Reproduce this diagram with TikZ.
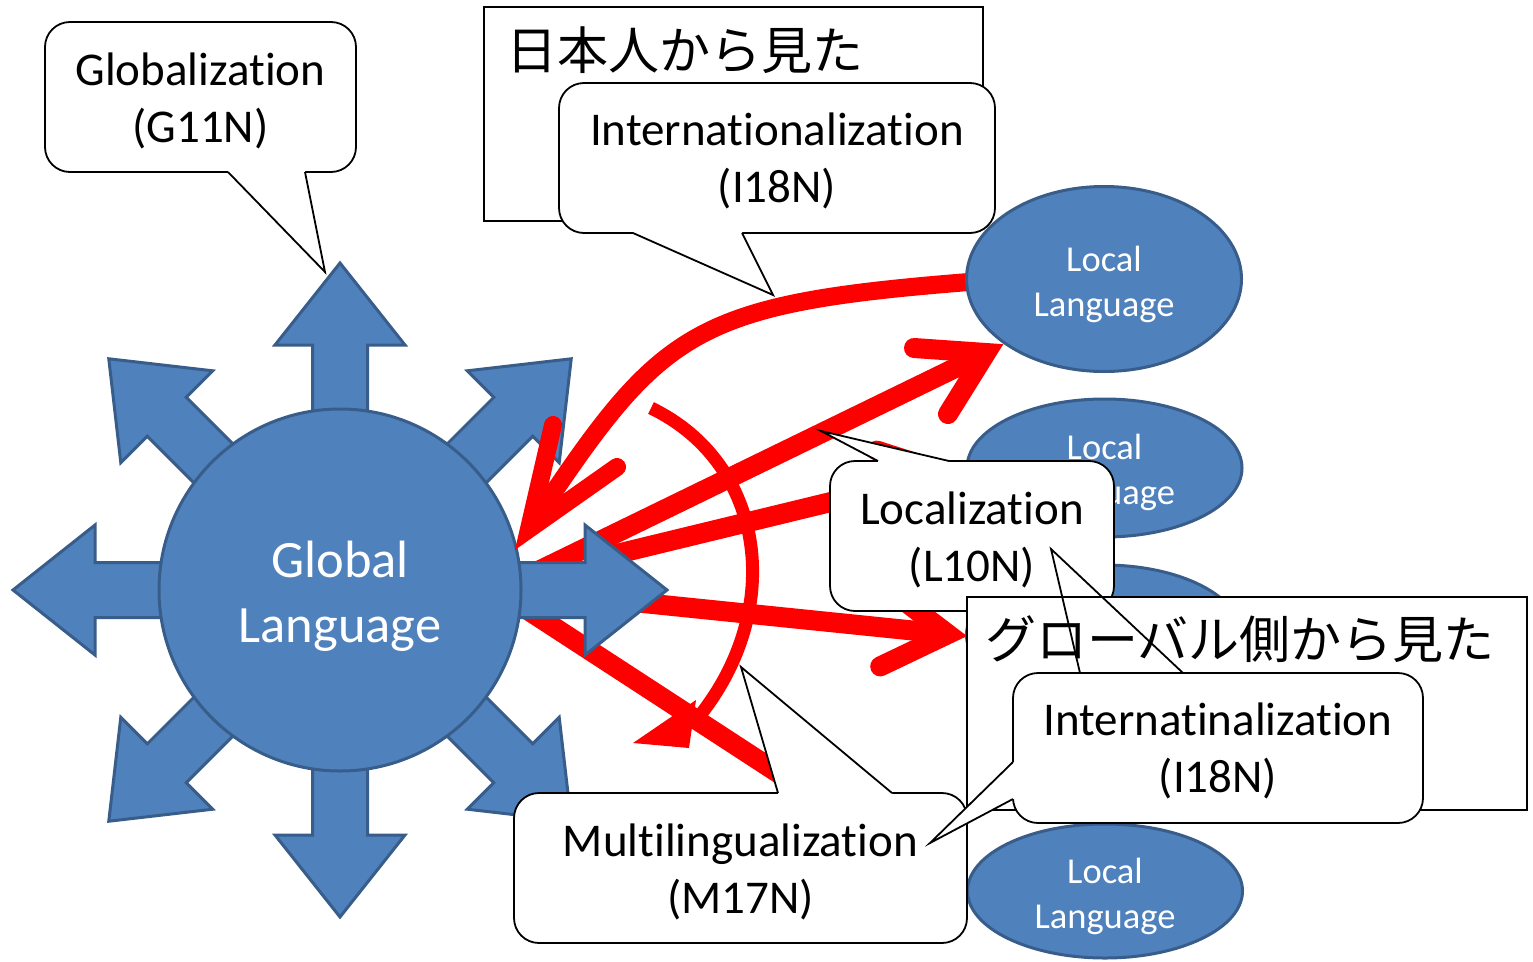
\documentclass[tikz,border=0pt]{standalone}
\usepackage{fontspec}
\setmainfont{Carlito}[Ligatures=NoCommon]
\newfontfamily\jpfont{Noto Sans CJK JP}
\usetikzlibrary{shapes.geometric}
\definecolor{gblue}{HTML}{4F81BD}
\definecolor{gborder}{HTML}{385D8A}
\definecolor{ared}{HTML}{FF0000}
\begin{document}
\begin{tikzpicture}[x=1pt,y=-1pt,
  callbox/.style={draw=black, fill=white, rounded corners=25pt, line width=1.8pt, inner sep=0pt},
  calltext/.style={align=center, inner sep=0pt, font=\fontsize{47}{57.5}\selectfont},
  plainbox/.style={draw=black, fill=white, line width=1.8pt, inner sep=0pt},
  jptext/.style={anchor=west, inner sep=0pt, font=\jpfont\fontsize{51}{60}\selectfont},
  localell/.style={ellipse, draw=gborder, fill=gblue, line width=3pt, inner sep=0pt, minimum width=275pt},
  localtext/.style={text=white, align=center, inner sep=0pt, font=\fontsize{36.5}{45}\selectfont},
  redline/.style={draw=ared, line width=20pt},
  redbarb/.style={draw=ared, line width=20pt, line cap=round, line join=miter},
  pointerline/.style={draw=black, line width=1.8pt, line join=miter},
  starbranch/.style={fill=gblue, draw=gborder, line width=3pt, line join=miter}
]
\useasboundingbox (0,0) rectangle (1533,961);

% red connectors lying under the star
\coordinate (Bs) at (530,575);   \coordinate (Bv) at (986,353);
\coordinate (Cs) at (600,558);   \coordinate (Cv) at (948.3,473.5);
\coordinate (Ds) at (600,598.6); \coordinate (Dv) at (947.9,634.1);
\coordinate (Es) at (520,605);   \coordinate (Ev) at (948,883.6);
\draw[redline] (Bs) -- (Bv);
\draw[redbarb] (914,348) -- (Bv) -- (948,414);
\draw[redline] (Cs) -- (Cv);
\draw[redbarb] (876.9,450.6) -- (Cv) -- (895.3,526.6);
\draw[redline] (Ds) -- (Dv);
\draw[redbarb] (888,588.6) -- (Dv) -- (880.2,666.4);
\draw[redline] (Es) -- (Ev);
\draw[redbarb] (915.7,815.9) -- (Ev) -- (873,881.4);

% eight-way arrow star
\foreach \a in {0,45,...,315}{
  \path[starbranch, shift={(340,590)}, rotate=\a]
    (0,27.5) -- (245,27.5) -- (245,65) -- (327,0) -- (245,-65) -- (245,-27.5) -- (0,-27.5) -- cycle;
}
\node[circle, fill=gblue, draw=gborder, line width=3pt, minimum size=362pt, inner sep=0pt] (glob) at (340,590) {};
\node[text=white, align=center, inner sep=0pt, font=\fontsize{52.5}{65}\selectfont] (globtext) at (340,596) {Global\\Language};

% curved red arrow from the top local language
\coordinate (As) at (975,281.5);
\coordinate (Av) at (529,529);
\draw[draw=ared, line width=18pt] (As) .. controls (688,304) and (662,329) .. (Av);
\draw[draw=ared, line width=18pt, line cap=round, line join=miter] (553,425) -- (Av) -- (617,467);

% thin red curved arrow
\coordinate (Fs) at (651,408);
\coordinate (Fe) at (692,725);
\draw[draw=ared, line width=13pt] (Fs) .. controls (768,464.5) and (787,615.5) .. (Fe);
\fill[ared] (633,743) -- (689,748) -- (696,700) -- cycle;

% local languages
\node[localell, minimum height=185pt] (loc1) at (1104,279) {};
\node[localtext] (loc1text) at (1104,284) {Local\\Language};
\node[localell, minimum height=138pt] (loc2) at (1104.5,468) {};
\node[localtext] (loc2text) at (1104.5,472) {Local\\Language};
\node[localell, minimum height=140pt] (loc3) at (1104,635) {};
\node[localell, minimum height=134pt] (loc4) at (1105,891) {};
\node[localtext] (loc4text) at (1105,896) {Local\\Language};

% Japanese-view frame
\node[plainbox, minimum width=499pt, minimum height=214pt] (jpbox) at (733.5,114) {};
\node[jptext] (jptitle) at (506,50) {日本人から見た};

% I18N (top)
\node[callbox, minimum width=436pt, minimum height=150pt] (i18na) at (777,158) {};
\node[calltext] (i18natext) at (777,161) {Internationalization\\(I18N)};
\fill[white] (633,230) -- (633,233) -- (773,295) -- (742,233) -- (742,230) -- cycle;
\draw[pointerline] (633,233) -- (773,295) -- (742,233);

% G11N
\node[callbox, minimum width=311pt, minimum height=150pt] (g11n) at (200.5,97) {};
\node[calltext] (g11ntext) at (200.5,101) {Globalization\\(G11N)};
\fill[white] (228,169) -- (228,172) -- (325,272) -- (305,172) -- (305,169) -- cycle;
\draw[pointerline] (228,172) -- (325,272) -- (305,172);

% L10N
\node[callbox, minimum width=284pt, minimum height=150pt] (l10n) at (972,536) {};
\node[calltext] (l10ntext) at (972,540) {Localization\\(L10N)};
\fill[white] (878,464) -- (878,461) -- (821,431) -- (949,461) -- (949,464) -- cycle;
\draw[pointerline] (878,461) -- (821,431) -- (949,461);

% global-view frame
\node[plainbox, minimum width=560pt, minimum height=213pt] (glbox) at (1247,703.5) {};
\node[jptext] (gltitle) at (985,639) {グローバル側から見た};

% M17N
\node[callbox, minimum width=453pt, minimum height=150pt] (m17n) at (740.5,868) {};
\node[calltext] (m17ntext) at (740.5,872) {Multilingualization\\(M17N)};
\fill[white] (778,796) -- (778,793) -- (741,667) -- (892,793) -- (892,796) -- cycle;
\draw[pointerline] (778,793) -- (741,667) -- (892,793);

% I18N (bottom)
\node[callbox, minimum width=410pt, minimum height=150pt] (i18nb) at (1218,748) {};
\node[calltext] (i18nbtext) at (1218,751) {Internatinalization\\(I18N)};
\fill[white] (1016,762) -- (1013,762) -- (930,843) -- (1013,799) -- (1016,799) -- cycle;
\draw[pointerline] (1013,762) -- (930,843) -- (1013,799);
\draw[pointerline] (1080,673) -- (1051,549) -- (1183,673);
\end{tikzpicture}
\end{document}
